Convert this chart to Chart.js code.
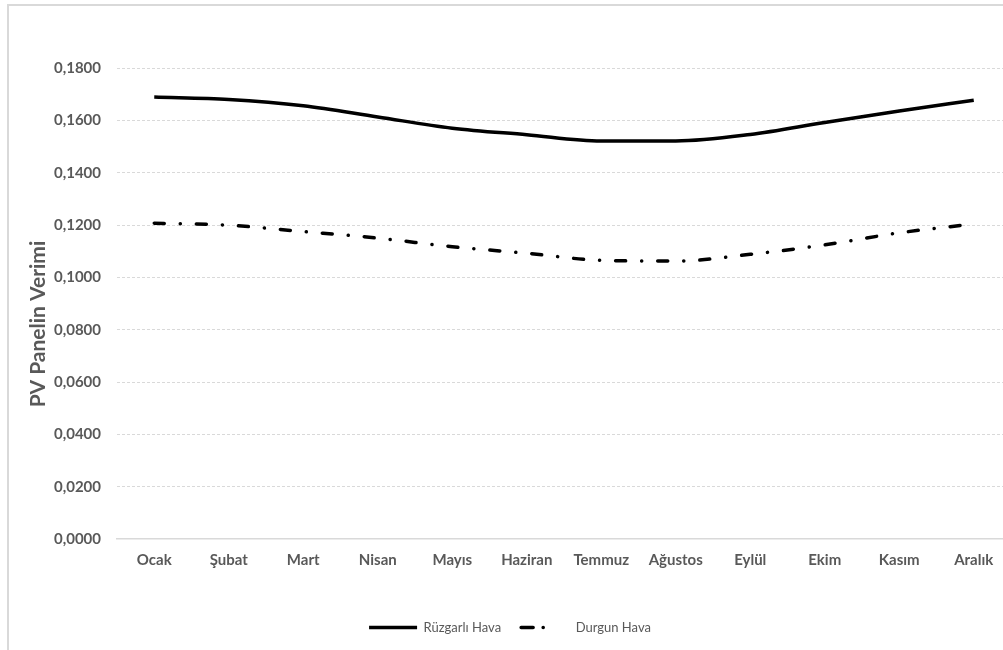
<!DOCTYPE html>
<html>
<head>
<meta charset="utf-8">
<script src="https://cdn.jsdelivr.net/npm/chart.js@4/dist/chart.umd.min.js"></script>
<style>
  html, body { margin: 0; padding: 0; background: #fff; overflow: hidden; }
  .frame {
    position: absolute; left: 7px; top: 4px; width: 1020px; height: 660px;
    border-left: 2px solid #d9d9d9; border-top: 2px solid #d9d9d9;
  }
  .frame canvas { position: absolute; left: 0; top: 0; }
</style>
</head>
<body>
<div class="frame">
  <canvas id="verimChart" width="1012" height="640"></canvas>
</div>
<script>
const months = ['Ocak', 'Şubat', 'Mart', 'Nisan', 'Mayıs', 'Haziran', 'Temmuz', 'Ağustos', 'Eylül', 'Ekim', 'Kasım', 'Aralık'];
const ruzgarli = [0.1689, 0.1680, 0.1656, 0.1613, 0.1570, 0.1545, 0.1521, 0.1521, 0.1546, 0.1592, 0.1636, 0.1677];
const durgun = [0.1207, 0.1199, 0.1175, 0.1150, 0.1117, 0.1092, 0.1065, 0.1062, 0.1088, 0.1124, 0.1170, 0.1204];
const yTitle = 'PV Panelin Verimi';

const grayText = '#595959';
const fontFam = 'Lato, "Open Sans", sans-serif';

// y ekseni başlığı: Excel'deki gibi biraz aşağıda duruyor, elle çiziyoruz
const yTitlePlugin = {
    id: 'yTitle',
    afterDraw(chart) {
        const c = chart.ctx;
        c.save();
        c.translate(29, 318);
        c.rotate(-Math.PI / 2);
        c.fillStyle = grayText;
        c.font = 'bold 21px ' + fontFam;
        c.textAlign = 'center';
        c.textBaseline = 'middle';
        c.fillText(yTitle, 0, 0);
        c.restore();
    }
};

const ctx = document.getElementById('verimChart').getContext('2d');
new Chart(ctx, {
    type: 'line',
    data: {
        labels: months,
        datasets: [
            {
                label: 'Rüzgarlı Hava',
                data: ruzgarli,
                borderColor: '#000',
                backgroundColor: '#000',
                borderWidth: 3.5,
                pointRadius: 0,
                cubicInterpolationMode: 'monotone'
            },
            {
                label: 'Durgun Hava',
                data: durgun,
                borderColor: '#000',
                backgroundColor: '#000',
                borderWidth: 3.5,
                borderDash: [10, 16, 0.1, 16],
                borderCapStyle: 'round',
                pointRadius: 0,
                cubicInterpolationMode: 'monotone'
            }
        ]
    },
    plugins: [yTitlePlugin],
    options: {
        responsive: false,
        animation: false,
        layout: { padding: { top: 62, right: 10, bottom: 2, left: 0 } },
        plugins: {
            tooltip: { enabled: false },
            legend: {
                position: 'bottom',
                labels: {
                    usePointStyle: true,
                    pointStyle: 'line',
                    pointStyleWidth: 48,
                    boxHeight: 4,
                    color: grayText,
                    font: { family: fontFam, size: 13 },
                    padding: 20,
                    generateLabels: chart => chart.data.datasets.map((ds, i) => ({
                        text: ds.label,
                        datasetIndex: i,
                        fillStyle: '#000',
                        strokeStyle: '#000',
                        fontColor: grayText,
                        lineWidth: 3.5,
                        lineDash: i === 1 ? [12, 10, 0.1, 30] : [],
                        lineCap: i === 1 ? 'round' : 'butt',
                        pointStyle: 'line',
                        hidden: false
                    }))
                }
            }
        },
        scales: {
            x: {
                offset: true,
                grid: { display: false, drawTicks: false },
                border: { display: true, color: '#d9d9d9', width: 1.5 },
                ticks: {
                    color: grayText,
                    font: { family: fontFam, size: 15, weight: 'bold' },
                    padding: 12,
                    maxRotation: 0
                },
                afterFit: scale => { scale.height = 62; }
            },
            y: {
                min: 0,
                max: 0.18,
                ticks: {
                    stepSize: 0.02,
                    color: grayText,
                    font: { family: fontFam, size: 15, weight: 'bold' },
                    padding: 16,
                    callback: v => v.toFixed(4).replace('.', ',')
                },
                grid: {
                    drawTicks: false,
                    color: c => c.index === 0 ? 'rgba(0,0,0,0)' : '#d9d9d9',
                    lineWidth: 1
                },
                border: { display: false, dash: [3, 2] },
                afterFit: scale => { scale.width = 108; }
            }
        }
    }
});
</script>
</body>
</html>
